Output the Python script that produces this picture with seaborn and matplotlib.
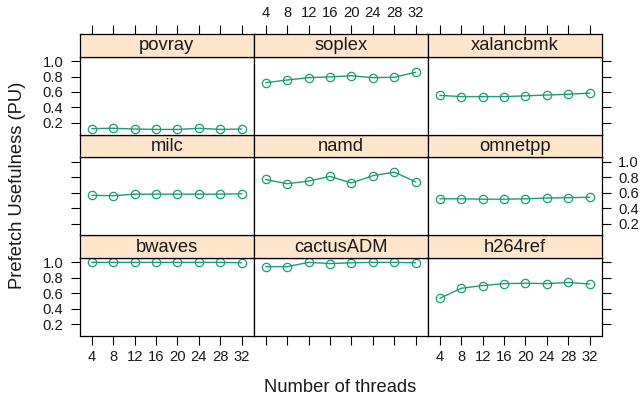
import numpy as np
import pandas as pd
import matplotlib
matplotlib.use("Agg")
import matplotlib.pyplot as plt
import seaborn as sns

threads = [4, 8, 12, 16, 20, 24, 28, 32]
bwaves = [1.0, 1.0, 1.0, 1.0, 1.0, 1.0, 1.0, 0.995]
cactusADM = [0.945, 0.945, 1.0, 0.985, 0.995, 1.0, 1.0, 0.995]
h264ref = [0.535, 0.665, 0.70, 0.725, 0.73, 0.725, 0.74, 0.72]
milc = [0.565, 0.56, 0.58, 0.58, 0.58, 0.58, 0.58, 0.585]
namd = [0.77, 0.715, 0.75, 0.81, 0.725, 0.82, 0.865, 0.74]
omnetpp = [0.52, 0.52, 0.515, 0.515, 0.52, 0.53, 0.535, 0.54]
povray = [0.125, 0.13, 0.12, 0.115, 0.115, 0.13, 0.115, 0.12]
soplex = [0.72, 0.755, 0.785, 0.795, 0.81, 0.785, 0.79, 0.855]
xalancbmk = [0.555, 0.54, 0.54, 0.54, 0.55, 0.56, 0.57, 0.585]

benchmarks = ["bwaves", "cactusADM", "h264ref", "milc", "namd", "omnetpp",
              "povray", "soplex", "xalancbmk"]
series = [bwaves, cactusADM, h264ref, milc, namd, omnetpp, povray, soplex, xalancbmk]
x_ticks = [4, 8, 12, 16, 20, 24, 28, 32]
y_ticks = [0.2, 0.4, 0.6, 0.8, 1.0]
y_ticklabels = ["0.2", "0.4", "0.6", "0.8", "1.0"]

df = pd.DataFrame({
    "benchmark": np.repeat(benchmarks, len(threads)),
    "threads": threads * len(benchmarks),
    "pu": np.concatenate(series),
})

sns.set_theme(style="white")
plt.rcParams["font.family"] = ["Liberation Sans", "DejaVu Sans"]
plt.rcParams["axes.linewidth"] = 0.9

W, H = 642, 405
fig = plt.figure(figsize=(W / 100, H / 100), dpi=100)

col_x = [79.5, 253.5, 427.5]
col_w = 174.5
row_top = [34.0, 134.67, 235.33]   # top, middle, bottom row (pixels from top)
strip_h = 22.5
body_h = 78.17
color = "#1b9e77"
strip_color = "#ffe5cc"
xlim = (1.7, 34.3)
ylim = (0.047, 1.059)
fs_tick = 10.6
fs_main = 13.2
tick_len = 6.2
txt_col = "#1a1a1a"

# lattice order: bottom-left first, row by row upward
for i, name in enumerate(benchmarks):
    r_from_bottom = i // 3
    c = i % 3
    r = 2 - r_from_bottom  # row index from top
    top = row_top[r]
    ax = fig.add_axes([col_x[c] / W, 1 - (top + strip_h + body_h) / H,
                       col_w / W, body_h / H])
    sax = fig.add_axes([col_x[c] / W, 1 - (top + strip_h) / H,
                        col_w / W, strip_h / H])
    sub = df[df["benchmark"] == name]
    sns.lineplot(data=sub, x="threads", y="pu", ax=ax, color=color,
                 linewidth=1.0, marker="o", markersize=6,
                 markerfacecolor="none", markeredgecolor=color,
                 markeredgewidth=0.9, legend=False)
    ax.set_xlim(*xlim)
    ax.set_ylim(*ylim)
    ax.set_xlabel("")
    ax.set_ylabel("")
    for sp in ax.spines.values():
        sp.set_color("black")
        sp.set_linewidth(0.9)
    ax.set_xticks(x_ticks)
    ax.set_yticks(y_ticks)
    ax.set_yticklabels(y_ticklabels)
    ax.tick_params(axis="both", direction="out", length=tick_len, width=0.8,
                   color="black", labelsize=fs_tick, labelcolor=txt_col)
    ax.tick_params(axis="x", pad=4.2)
    ax.tick_params(axis="y", pad=5.5)
    bottom_row = (r == 2)
    ax.tick_params(axis="x", bottom=bottom_row, labelbottom=bottom_row and c in (0, 2),
                   top=False, labeltop=False)
    left = (c == 0)
    right = (c == 2)
    ax.tick_params(axis="y", left=left, labelleft=left and r in (0, 2),
                   right=right, labelright=right and r == 1)

    # strip
    sax.set_facecolor(strip_color)
    sax.set_xlim(*xlim)
    sax.set_ylim(0, 1)
    sax.set_yticks([])
    sax.set_xticks(x_ticks)
    sax.set_xticklabels([str(t) for t in x_ticks])
    sax.tick_params(axis="x", direction="out", length=tick_len, width=0.8, color="black",
                    labelsize=fs_tick, pad=4.2, labelcolor=txt_col,
                    bottom=False, labelbottom=False,
                    top=(r == 0), labeltop=(r == 0 and c == 1))
    for sp in sax.spines.values():
        sp.set_color("black")
        sp.set_linewidth(0.9)
    sax.text(0.5, 0.47, name, transform=sax.transAxes, ha="center", va="center",
             fontsize=fs_main, color=txt_col)

fig.text(18 / W, 1 - 185 / H, "Prefetch Usefulness (PU)", rotation=90,
         ha="center", va="center", fontsize=fs_main, color=txt_col)
fig.text(340 / W, 1 - 388 / H, "Number of threads", ha="center", va="center",
         fontsize=fs_main, color=txt_col)

fig.savefig("out.png", dpi=100)
